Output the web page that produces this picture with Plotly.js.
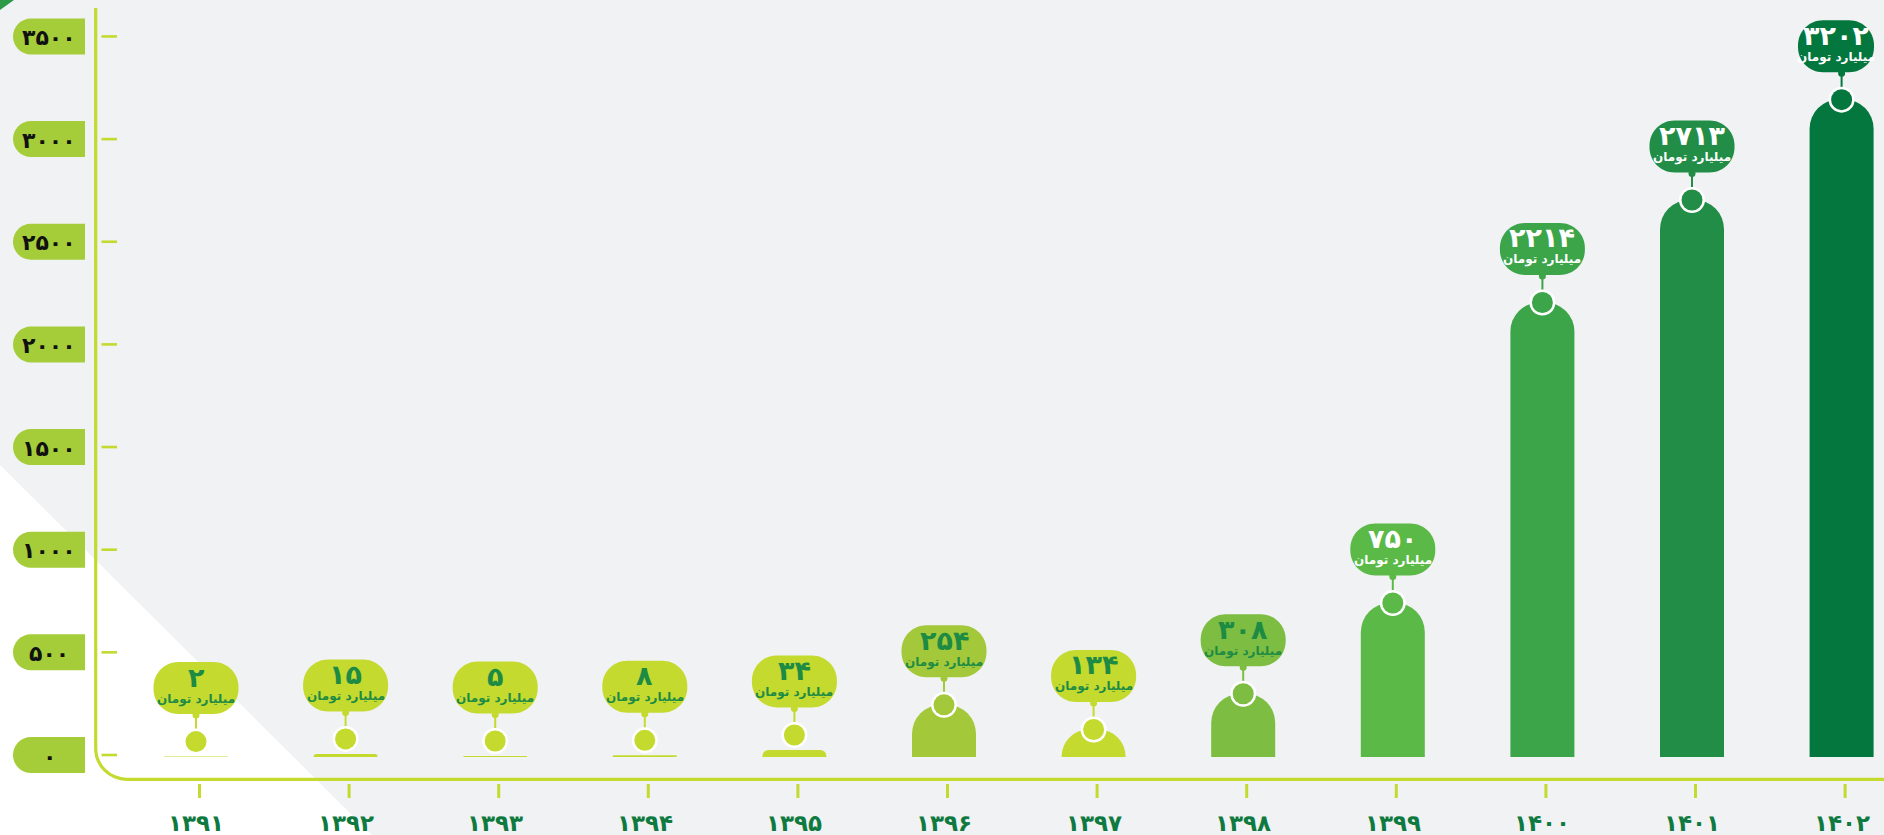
<!DOCTYPE html>
<html><head><meta charset="utf-8">
<script src="https://cdn.plot.ly/plotly-3.0.1.min.js"></script>
<style>html,body{margin:0;padding:0;background:#f1f2f4;overflow:hidden}</style>
</head><body><div id="chart" style="width:1884px;height:835px"></div>
<script>
// ---- data ----
const years = ['۱۳۹۱','۱۳۹۲','۱۳۹۳','۱۳۹۴','۱۳۹۵','۱۳۹۶','۱۳۹۷','۱۳۹۸','۱۳۹۹','۱۴۰۰','۱۴۰۱','۱۴۰۲'];
const values = [2, 15, 5, 8, 34, 254, 134, 308, 750, 2214, 2713, 3202];
const unitLabel = 'میلیارد تومان';
const yTickValues = [0, 500, 1000, 1500, 2000, 2500, 3000, 3500];

// ---- styles ----
const barColors = ['#c4da2f','#c4da2f','#c4da2f','#c4da2f','#c4da2f','#a3c93a','#c4da2f','#7cbd42','#5bb947','#3ca449','#218d47','#03773d'];
const labelColors = ['#1d8b44','#1d8b44','#1d8b44','#1d8b44','#1d8b44','#1d8b44','#1d8b44','#1d8b44','#ffffff','#ffffff','#ffffff','#ffffff'];
const FONT = 'DejaVu Sans, Noto Sans, sans-serif';
const LIME = '#c4da2f';

function fa(n){ return String(n).replace(/\d/g, d => '۰۱۲۳۴۵۶۷۸۹'[d]); }

// ---- pixel geometry of the canvas (axes span the whole canvas) ----
const W = 1884, H = 835;
const X0PX = 196, STEP = 149.6;   // first category centre, category spacing
const BASEPX = 757, K = 0.2053;   // value 0 pixel, pixels per unit
const px2x = p => (p - X0PX) / STEP;
const px2y = p => (BASEPX - p) / K;
const x2px = i => X0PX + STEP * i;
const y2px = v => BASEPX - K * v;
const P = (xp, yp) => px2x(xp) + ',' + px2y(yp);
const KA = 0.5523;

function rrect(x0, y0, x1, y1, r){ // r=[tl,tr,br,bl]
  let d = 'M' + P(x0 + r[0], y0) + ' L' + P(x1 - r[1], y0);
  if (r[1]) d += ' C' + P(x1 - r[1] + KA*r[1], y0) + ' ' + P(x1, y0 + r[1] - KA*r[1]) + ' ' + P(x1, y0 + r[1]);
  d += ' L' + P(x1, y1 - r[2]);
  if (r[2]) d += ' C' + P(x1, y1 - r[2] + KA*r[2]) + ' ' + P(x1 - r[2] + KA*r[2], y1) + ' ' + P(x1 - r[2], y1);
  d += ' L' + P(x0 + r[3], y1);
  if (r[3]) d += ' C' + P(x0 + r[3] - KA*r[3], y1) + ' ' + P(x0, y1 - r[3] + KA*r[3]) + ' ' + P(x0, y1 - r[3]);
  d += ' L' + P(x0, y0 + r[0]);
  if (r[0]) d += ' C' + P(x0, y0 + r[0] - KA*r[0]) + ' ' + P(x0 + r[0] - KA*r[0], y0) + ' ' + P(x0 + r[0], y0);
  return d + ' Z';
}
function circle(cx, cy, r, color, layer){
  return {type:'circle', layer: layer || 'above', xref:'x', yref:'y',
    x0: px2x(cx - r), x1: px2x(cx + r), y0: px2y(cy + r), y1: px2y(cy - r),
    fillcolor: color, line:{width:0}};
}

const shapes = [];
const annotations = [];

// background white triangle & corner mark
shapes.push({type:'path', layer:'below', path:'M' + P(0,465) + ' L' + P(372,H) + ' L' + P(0,H) + ' Z', fillcolor:'#ffffff', line:{width:0}});
shapes.push({type:'path', layer:'below', path:'M' + P(0,0) + ' L' + P(14,0) + ' L' + P(0,10) + ' Z', fillcolor:'#2e9a48', line:{width:0}});

// axis line with rounded corner
const AX = 95.7, AY = 779.3, AR = 31;
shapes.push({type:'path', layer:'below', line:{color:LIME, width:3.2},
  path:'M' + P(AX, 8) + ' L' + P(AX, AY - AR) + ' C' + P(AX, AY - AR + KA*AR) + ' ' + P(AX + AR - KA*AR, AY) + ' ' + P(AX + AR, AY) + ' L' + P(W + 5, AY)});

// y ticks + pills
yTickValues.forEach(v => {
  const ty = y2px(v) - 2;
  shapes.push({type:'line', layer:'below', x0:px2x(101.5), x1:px2x(117), y0:px2y(ty), y1:px2y(ty), line:{color:LIME, width:2.6}});
  shapes.push({type:'path', layer:'below', path: rrect(13, ty - 18, 85, ty + 18, [18,0,0,18]), fillcolor:'#a5cd39', line:{width:0}});
  annotations.push({x:px2x(49), y:px2y(ty + 1), xref:'x', yref:'y', text:'<b>' + fa(v) + '</b>', showarrow:false,
    xanchor:'center', yanchor:'middle', font:{family:FONT, size:22, color:'#111111'}});
});

// x ticks + labels
years.forEach((yr, i) => {
  const cx = x2px(i);
  shapes.push({type:'line', layer:'below', x0:px2x(cx + 3.5), x1:px2x(cx + 3.5), y0:px2y(784), y1:px2y(798), line:{color:LIME, width:3}});
  annotations.push({x:i, y:px2y(823), xref:'x', yref:'y', text:'<b>' + yr + '</b>', showarrow:false,
    xanchor:'center', yanchor:'middle', font:{family:FONT, size:23, color:'#0f7a40'}});
});

// bubbles, stems, markers
values.forEach((v, i) => {
  const cx = x2px(i);
  const top = y2px(v);
  const cy = (BASEPX - top) >= 20 ? top : top - 15;
  const col = barColors[i];
  let bw = 85, bcx = cx;
  if (bcx + bw/2 > W - 11) { bw = 76; bcx = W - 10 - bw/2; }
  const bBot = cy - 27.5, bTop = bBot - 52;
  // stem
  shapes.push({type:'line', layer:'above', x0:px2x(cx), x1:px2x(cx), y0:px2y(bBot), y1:px2y(cy - 8), line:{color:col, width:2}});
  shapes.push(circle(cx, bBot + 1, 3.5, col));
  // bubble
  shapes.push({type:'path', layer:'above', path: rrect(bcx - bw/2, bTop, bcx + bw/2, bBot, [25,25,25,25]), fillcolor:col, line:{width:0}});
  // marker on bar top
  shapes.push(circle(cx, cy, 13, '#ffffff'));
  shapes.push(circle(cx, cy, 10.5, col));
  annotations.push({x:px2x(bcx), y:px2y(bTop + 15), xref:'x', yref:'y', text:'<b>' + fa(v) + '</b>', showarrow:false,
    xanchor:'center', yanchor:'middle', font:{family:FONT, size:27, color:labelColors[i]}});
  annotations.push({x:px2x(bcx), y:px2y(bTop + 37), xref:'x', yref:'y', text:'<b>' + unitLabel + '</b>', showarrow:false,
    xanchor:'center', yanchor:'middle', font:{family:FONT, size:12, color:labelColors[i]}});
});

const trace = {
  type:'bar', x: years.map((_, i) => i), y: values, width: 64 / STEP,
  marker:{color: barColors, cornerradius: 29, line:{width:0}}, hoverinfo:'skip'
};

const layout = {
  width:W, height:H, margin:{l:0, r:0, t:0, b:0, pad:0},
  paper_bgcolor:'#f1f2f4', plot_bgcolor:'rgba(0,0,0,0)', showlegend:false,
  xaxis:{range:[px2x(0), px2x(W)], visible:false, fixedrange:true},
  yaxis:{range:[px2y(H), px2y(0)], visible:false, fixedrange:true},
  shapes, annotations
};
Plotly.newPlot('chart', [trace], layout, {displayModeBar:false, staticPlot:true});
</script></body></html>
